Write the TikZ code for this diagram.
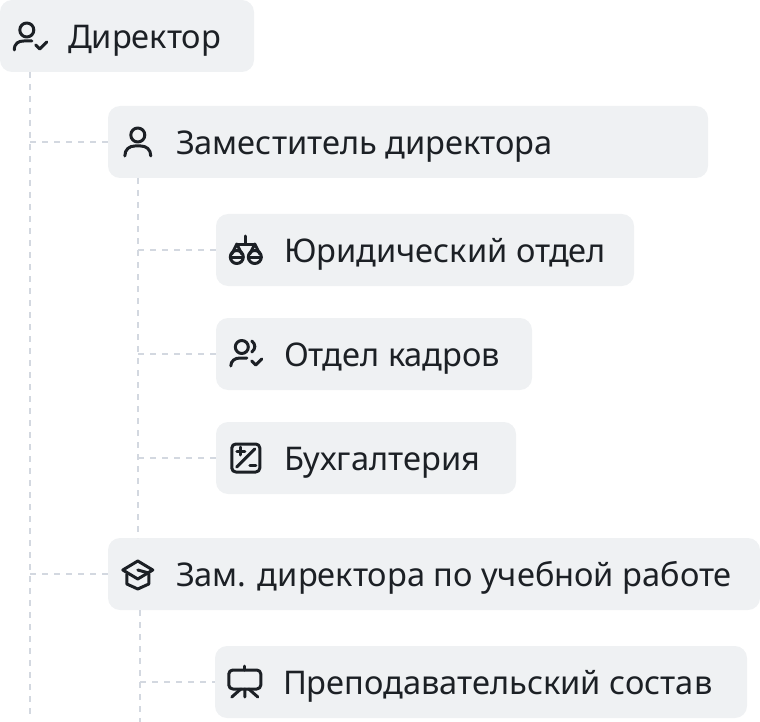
\documentclass[tikz,border=0pt]{standalone}
\usepackage{fontspec}
\setmainfont{Noto Sans}
\usepackage{xcolor}
\usetikzlibrary{positioning}
\definecolor{boxgray}{HTML}{EFF1F3}
\definecolor{inkdark}{HTML}{1C2025}
\definecolor{linkgray}{HTML}{D3D8E0}
\tikzstyle{orgbox} = [rectangle, rounded corners=12pt, minimum height=72pt, inner sep=0pt, fill=boxgray]
\tikzstyle{boxlabel} = [inner sep=0pt, text height=28pt, text depth=3pt, text=inkdark, font=\fontsize{32.6}{38}\selectfont]
\tikzstyle{link} = [line width=1.6pt, linkgray, dash pattern=on 6pt off 6pt]
\tikzstyle{glyph} = [line width=3pt, inkdark, line cap=round, line join=round]
\tikzset{
  usercheck/.pic={
    \draw [glyph] (-3,-6) circle (7);
    \draw [glyph] (-15.5,14) .. controls (-15.5,7) and (-11,5) .. (-6,5) -- (2,5);
    \draw [glyph] (6,9) -- (10,13) -- (17,6);
  },
  person/.pic={
    \draw [glyph] (0,-7) circle (7);
    \draw [glyph] (-13,14) .. controls (-13,7) and (-8,4) .. (-3,4) -- (3,4) .. controls (8,4) and (13,7) .. (13,14);
  },
  balance/.pic={
    \draw [glyph] (0,-14) -- (0,-6) (-8,-6) -- (8,-6);
    \draw [glyph] (-9,7) circle (6.5) (9,7) circle (6.5);
    \draw [glyph] (-15.5,7) -- (-3,7) (3,7) -- (15.5,7);
    \draw [glyph] (-14,4) -- (-9,-6) -- (-4,4) (4,4) -- (9,-6) -- (14,4);
  },
  teamcheck/.pic={
    \draw [glyph] (-4,-7) circle (6.5);
    \draw [glyph] (6,-13) .. controls (10,-10) and (10,-5) .. (6,-2);
    \draw [glyph] (-15,12) .. controls (-15,7) and (-11,4) .. (-6,4) -- (1,4);
    \draw [glyph] (6,7) -- (10,11) -- (16,5);
  },
  percentbox/.pic={
    \draw [glyph, rounded corners=4pt] (-14,-14) rectangle (14,14);
    \draw [glyph] (-9,9) -- (9,-9);
    \draw [glyph] (-9,-7) -- (-1,-7) (-5,-11) -- (-5,-3);
    \draw [glyph] (4,7) -- (10,7);
  },
  gradcap/.pic={
    \draw [glyph] (0,-13) -- (15,-4) -- (0,5) -- (-15,-4) -- cycle;
    \draw [glyph] (-11,0) -- (-11,10) -- (0,15) -- (11,10) -- (11,0);
    \draw [glyph] (0,-4) -- (11,-1);
  },
  easel/.pic={
    \draw [glyph] (0,-16) -- (0,-12);
    \draw [glyph, rounded corners=4pt] (-16,-12) rectangle (16,7);
    \draw [glyph] (0,7) -- (0,15) (-4,7) -- (-13,15) (4,7) -- (13,15);
  }
}
\begin{document}
\begin{tikzpicture}[x=1pt, y=-1pt, node distance=104pt]
\useasboundingbox (0,0) rectangle (760,722);
\node (direktor) [orgbox, minimum width=254pt] at (127,36) {};
\node (zam1) [orgbox, minimum width=600pt, below of=direktor, xshift=281pt, yshift=-2pt] {};
\node (jurist) [orgbox, minimum width=418pt, below of=zam1, xshift=17pt, yshift=-4pt] {};
\node (kadry) [orgbox, minimum width=316pt, below of=jurist, xshift=-51pt] {};
\node (buh) [orgbox, minimum width=300pt, below of=kadry, xshift=-8pt] {};
\node (zam2) [orgbox, minimum width=652pt, below of=buh, xshift=68pt, yshift=-12pt] {};
\node (prep) [orgbox, minimum width=532pt, below of=zam2, xshift=47pt, yshift=-4pt] {};

\node (direktortext) [boxlabel, right=68pt of direktor.west] {Директор};
\node (zam1text) [boxlabel, right=68pt of zam1.west] {Заместитель директора};
\node (jurtext) [boxlabel, right=68pt of jurist.west] {Юридический отдел};
\node (kadrytext) [boxlabel, right=68pt of kadry.west] {Отдел кадров};
\node (buhtext) [boxlabel, right=68pt of buh.west] {Бухгалтерия};
\node (zam2text) [boxlabel, right=68pt of zam2.west] {Зам. директора по учебной работе};
\node (preptext) [boxlabel, right=68pt of prep.west] {Преподавательский состав};

\pic [xshift=30pt] at (direktor.west) {usercheck};
\pic [xshift=30pt] at (zam1.west) {person};
\pic [xshift=30pt] at (jurist.west) {balance};
\pic [xshift=30pt] at (kadry.west) {teamcheck};
\pic [xshift=30pt] at (buh.west) {percentbox};
\pic [xshift=30pt] at (zam2.west) {gradcap};
\pic [xshift=30pt] at (prep.west) {easel};

\coordinate (trunkA) at (30,72);
\coordinate (trunkAend) at (30,714);
\coordinate (trunkB) at (138,178);
\coordinate (trunkBend) at (138,538);
\coordinate (trunkC) at (140,610);
\coordinate (trunkCend) at (140,722);

\draw [link] (trunkA) -- (trunkAend);
\draw [link] (trunkB) -- (trunkBend);
\draw [link] (trunkC) -- (trunkCend);
\draw [link, yshift=0.7pt] (trunkA |- zam1.west) -- (zam1.west);
\draw [link, yshift=0.7pt] (trunkA |- zam2.west) -- (zam2.west);
\draw [link, yshift=0.7pt] (trunkB |- jurist.west) -- (jurist.west);
\draw [link, yshift=0.7pt] (trunkB |- kadry.west) -- (kadry.west);
\draw [link, yshift=0.7pt] (trunkB |- buh.west) -- (buh.west);
\draw [link, yshift=0.7pt] (trunkC |- prep.west) -- (prep.west);
\end{tikzpicture}
\end{document}
